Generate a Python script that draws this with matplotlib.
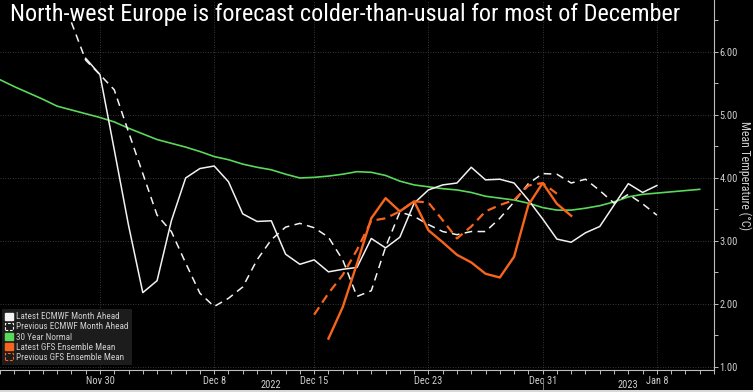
import numpy as np
import pandas as pd
import matplotlib
matplotlib.use("Agg")
import matplotlib.pyplot as plt
import matplotlib.dates as mdates
import matplotlib.patches as mpatches
import matplotlib.transforms as mtransforms
from matplotlib import font_manager as fm

# ---------------- data ----------------
latest_ecmwf_start = "2022-11-29"
latest_ecmwf = [5.90, 5.64, 4.45, 3.25, 2.18, 2.37, 3.32, 4.00, 4.15, 4.19, 3.94, 3.43,
                3.31, 3.32, 2.79, 2.63, 2.70, 2.51, 2.55, 2.58, 3.04, 2.89, 3.06, 3.60,
                3.81, 3.89, 3.92, 4.17, 3.97, 3.98, 3.92, 3.65, 3.35, 3.03, 2.98, 3.13,
                3.23, 3.57, 3.91, 3.77, 3.88]

previous_ecmwf_start = "2022-11-28"
previous_ecmwf = [6.47, 5.87, 5.64, 5.40, 4.73, 4.07, 3.41, 3.15, 2.65, 2.17, 1.96, 2.09,
                  2.27, 2.70, 3.02, 3.22, 3.28, 3.21, 3.06, 2.70, 2.12, 2.21, 2.90, 3.46,
                  3.39, 3.26, 3.15, 3.10, 3.15, 3.15, 3.36, 3.62, 3.91, 4.07, 4.06, 3.92,
                  3.98, 3.80, 3.60, 3.74, 3.59, 3.41]

normal_start = "2022-11-23"
normal_30yr = [5.56, 5.45, 5.35, 5.25, 5.14, 5.08, 5.02,
               4.96, 4.89, 4.79, 4.70, 4.61, 4.55, 4.49, 4.42, 4.34, 4.29, 4.22, 4.17,
               4.13, 4.06, 4.00,
               4.01, 4.03, 4.06, 4.10, 4.09, 4.04, 3.95, 3.89, 3.86, 3.83, 3.81, 3.77,
               3.71, 3.68, 3.65, 3.60, 3.53, 3.49,
               3.49, 3.52, 3.56, 3.62, 3.70, 3.74, 3.76, 3.78, 3.80, 3.82]

latest_gfs_start = "2022-12-16"
latest_gfs = [1.45, 1.95, 2.64, 3.36, 3.68, 3.47, 3.63, 3.17, 2.98, 2.78, 2.66, 2.48,
              2.42, 2.75, 3.57, 3.92, 3.59, 3.40]

previous_gfs_start = "2022-12-15"
previous_gfs = [1.83, 2.17, 2.46, 2.86, 3.32, 3.36, 3.47, 3.63, 3.61, 3.33, 3.04, 3.23,
                3.47, 3.57, 3.65, 3.88, 3.92, 3.75]

x_tick_dates = ["2022-11-30", "2022-12-08", "2022-12-15", "2022-12-23", "2022-12-31", "2023-01-08"]
x_tick_labels = ["Nov 30", "Dec 8", "Dec 15", "Dec 23", "Dec 31", "Jan 8"]
y_ticks = [1, 2, 3, 4, 5, 6]
years = ["2022", "2023"]
year_boundary = "2022-12-31"

title = "North-west Europe is forecast colder-than-usual for most of December"
ylabel = "Mean Temperature (°C)"
legend_labels = ["Latest ECMWF Month Ahead", "Previous ECMWF Month Ahead", "30 Year Normal",
                 "Latest GFS Ensemble Mean", "Previous GFS Ensemble Mean"]

# ---------------- style ----------------
available = {f.name for f in fm.fontManager.ttflist}
cond = "DejaVu Sans"
for cand in ["Liberation Sans Narrow", "Roboto Condensed", "Open Sans Condensed",
             "Liberation Sans"]:
    if cand in available:
        cond = cand
        break
plt.rcParams["font.family"] = [cond, "DejaVu Sans"]

BG = "#000000"
WHITE = "#f2f2f2"
GREEN = "#5ad85a"
ORANGE = "#f7641c"
TXT = "#cfcfcf"
GRID = "#4a4a4a"

W, H = 753, 392
fig = plt.figure(figsize=(W / 100, H / 100), dpi=100, facecolor=BG)
ax = fig.add_axes([0, (H - 370) / H, 714 / W, 370 / H], facecolor=BG)

def dates(start, vals):
    return pd.date_range(start, periods=len(vals), freq="D")

ax.plot(dates(normal_start, normal_30yr), normal_30yr, color=GREEN, lw=1.2, zorder=3)
ax.plot(dates(previous_ecmwf_start, previous_ecmwf), previous_ecmwf, color=WHITE, lw=1.1,
        dashes=(5, 3.5), zorder=4)
ax.plot(dates(latest_ecmwf_start, latest_ecmwf), latest_ecmwf, color=WHITE, lw=1.1, zorder=4)
ax.plot(dates(previous_gfs_start, previous_gfs), previous_gfs, color=ORANGE, lw=1.6,
        dashes=(4, 2.5), zorder=5)
ax.plot(dates(latest_gfs_start, latest_gfs), latest_gfs, color=ORANGE, lw=1.7, zorder=5)

ax.set_xlim(pd.Timestamp("2022-11-23"), pd.Timestamp("2023-01-12"))
ax.set_ylim(0.952, 6.825)

# axes / ticks
xt = [mdates.date2num(pd.Timestamp(d)) for d in x_tick_dates]
ax.set_xticks(xt)
ax.set_xticklabels(x_tick_labels)
ax.xaxis.set_minor_locator(mdates.DayLocator())
ax.tick_params(axis="x", which="both", colors="#bdbdbd", length=3, width=0.7,
               labelsize=7.5, labelcolor=TXT, pad=1.5, direction="out")

ax.yaxis.tick_right()
ax.set_yticks(y_ticks)
ax.set_yticklabels([f"{v:.2f}" for v in y_ticks])
ax.set_yticks(np.arange(1.5, 6.6, 1.0), minor=True)
ax.tick_params(axis="y", which="both", colors="#bdbdbd", length=3, width=0.7,
               labelsize=7.5, labelcolor=TXT, pad=1, direction="out")

for s in ["top", "left"]:
    ax.spines[s].set_visible(False)
for s in ["right", "bottom"]:
    ax.spines[s].set_color("#bdbdbd")
    ax.spines[s].set_linewidth(0.8)

ax.grid(True, which="major", color=GRID, lw=0.6, ls=(0, (1, 2)))
ax.set_axisbelow(True)

fig.text(745 / W, 1 - 176 / H, ylabel, rotation=270, ha="center", va="center",
         color=TXT, fontsize=8.5)

# year labels and separator
trans = mtransforms.blended_transform_factory(ax.transData, fig.transFigure)
x0, x1 = ax.get_xlim()
xb = mdates.date2num(pd.Timestamp(year_boundary))
ax.text((x0 + xb) / 2, 1 - 385 / H, years[0], transform=trans, ha="center", va="center",
        color=TXT, fontsize=7.5)
ax.text((xb + x1) / 2, 1 - 385 / H, years[1], transform=trans, ha="center", va="center",
        color=TXT, fontsize=7.5)
ax.plot([xb, xb], [1 - 378 / H, 1 - 391 / H], transform=trans, color="#777777", lw=0.7,
        clip_on=False)

# bottom light strip
fig.patches.append(mpatches.Rectangle((0, 0), 1, 2.5 / H, transform=fig.transFigure,
                                      facecolor="#d8d8d8", edgecolor="none"))

# title, size fitted to the reference width (~670 px)
t = fig.text(10 / W, 1 - 3 / H, title, ha="left", va="top", color="white", fontsize=17)
renderer = fig.canvas.get_renderer()
wpx = t.get_window_extent(renderer).width
fs = min(19.0, 17 * 670 / wpx)
t.set_fontsize(fs)

# legend
handles = [
    mpatches.Patch(facecolor=WHITE, edgecolor=WHITE),
    mpatches.Patch(facecolor="none", edgecolor=WHITE, linestyle=(0, (2.5, 1.5)), linewidth=0.8),
    mpatches.Patch(facecolor=GREEN, edgecolor=GREEN),
    mpatches.Patch(facecolor=ORANGE, edgecolor=ORANGE),
    mpatches.Patch(facecolor="none", edgecolor=ORANGE, linestyle=(0, (2.5, 1.5)), linewidth=0.8),
]
leg = ax.legend(handles, legend_labels, loc="lower left",
                bbox_to_anchor=(2 / 714, 5 / 370), frameon=True, fancybox=False,
                fontsize=6.6, labelcolor=TXT, handlelength=0.8, handleheight=0.8,
                handletextpad=0.4, labelspacing=0.12, borderpad=0.35, borderaxespad=0)
leg.get_frame().set_facecolor("#1c1c1c")
leg.get_frame().set_edgecolor("none")
leg.get_frame().set_alpha(1)
leg.set_zorder(10)

fig.savefig("out.png", dpi=100, facecolor=BG)
